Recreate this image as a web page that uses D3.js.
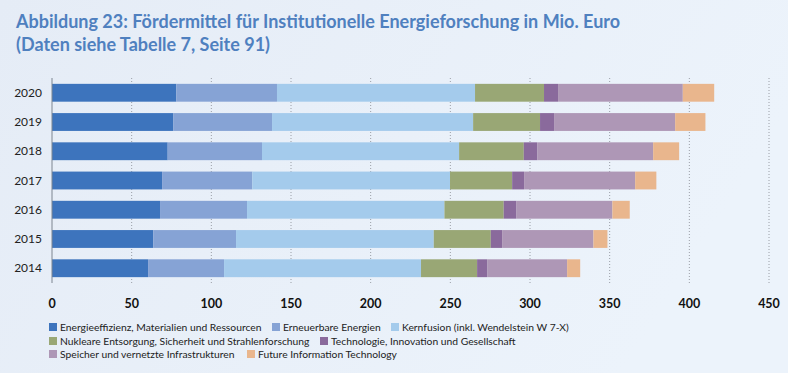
<!DOCTYPE html>
<html lang="de">
<head>
  <meta charset="UTF-8">
  <title>Abbildung 23</title>
  <script src="https://d3js.org/d3.v7.min.js"></script>
  <style>
    html, body { margin: 0; padding: 0; }
    body { width: 788px; height: 373px; overflow: hidden; }
    svg { display: block; }
    .title { font: bold 18px "Lato", sans-serif; fill: #4f80bf; }
    .ylab { font: 12px "Lato", sans-serif; fill: #222; }
    .xlab { font: bold 12.5px "Lato", sans-serif; fill: #111; }
    .leg { font: 10.3px "Lato", sans-serif; fill: #222; }
  </style>
</head>
<body>
  <svg id="chart" width="788" height="373"></svg>
  <script>
    const years = ['2020', '2019', '2018', '2017', '2016', '2015', '2014'];
    const seriesNames = [
      'Energieeffizienz, Materialien und Ressourcen',
      'Erneuerbare Energien',
      'Kernfusion (inkl. Wendelstein W 7-X)',
      'Nukleare Entsorgung, Sicherheit und Strahlenforschung',
      'Technologie, Innovation und Gesellschaft',
      'Speicher und vernetzte Infrastrukturen',
      'Future Information Technology'
    ];
    const colors = ['#3d74bd', '#86a3d5', '#a4cbec', '#99a775', '#8a6a9c', '#ae97b6', '#e9b68d'];
    // values per series, same order as years
    const effizienz   = [78.0, 76.2, 72.6, 69.1, 67.8, 63.6, 60.3];
    const erneuerbare = [63.2, 61.9, 59.2, 56.6, 54.6, 51.9, 47.7];
    const kernfusion  = [124.3, 126.2, 123.7, 124.1, 123.9, 124.1, 123.6];
    const nuklear     = [43.3, 42.0, 40.6, 39.0, 37.2, 35.8, 35.2];
    const technologie = [8.8, 8.8, 8.4, 7.5, 7.8, 7.1, 6.3];
    const speicher    = [78.3, 76.0, 72.8, 69.7, 60.4, 57.3, 50.2];
    const fit         = [19.7, 19.0, 16.3, 13.3, 10.9, 8.8, 8.2];
    const xTicks = [0, 50, 100, 150, 200, 250, 300, 350, 400, 450];

    const series = [effizienz, erneuerbare, kernfusion, nuklear, technologie, speicher, fit];
    const rows = years.map((y, i) => {
      const r = { year: y };
      seriesNames.forEach((n, j) => r[n] = series[j][i]);
      return r;
    });

    const svg = d3.select('#chart');

    // background
    const defs = svg.append('defs');
    const grad = defs.append('linearGradient').attr('id', 'bg').attr('x1', 0).attr('x2', 1).attr('y1', 0).attr('y2', 0.3);
    grad.append('stop').attr('offset', 0).attr('stop-color', '#e5ecf6');
    grad.append('stop').attr('offset', 1).attr('stop-color', '#ecf3fb');
    svg.append('rect').attr('width', 788).attr('height', 373).attr('fill', 'url(#bg)');

    svg.append('text').attr('class', 'title').attr('x', 16).attr('y', 28)
      .text('Abbildung 23: Fördermittel für Institutionelle Energieforschung in Mio. Euro');
    svg.append('text').attr('class', 'title').attr('x', 16).attr('y', 51)
      .text('(Daten siehe Tabelle 7, Seite 91)');

    const x = d3.scaleLinear().domain([0, 450]).range([52, 769]);
    const y = d3.scaleBand().domain(years).range([78, 283]).paddingInner(0.39).paddingOuter(0.2);

    // dotted gridlines
    svg.append('g').selectAll('line')
      .data(xTicks.slice(1))
      .join('line')
      .attr('x1', d => x(d)).attr('x2', d => x(d))
      .attr('y1', 78).attr('y2', 283)
      .attr('stroke', '#9a9ea6').attr('stroke-width', 1).attr('stroke-dasharray', '1,2');

    const stack = d3.stack().keys(seriesNames)(rows);
    svg.append('g').selectAll('g')
      .data(stack)
      .join('g')
      .attr('fill', (d, i) => colors[i])
      .selectAll('rect')
      .data(d => d)
      .join('rect')
      .attr('x', d => x(d[0]))
      .attr('width', d => x(d[1]) - x(d[0]))
      .attr('y', d => y(d.data.year))
      .attr('height', y.bandwidth());

    // y axis
    svg.append('line').attr('x1', 52).attr('x2', 52).attr('y1', 78).attr('y2', 283)
      .attr('stroke', '#7d8590').attr('stroke-width', 1);
    svg.append('g').selectAll('text')
      .data(years)
      .join('text')
      .attr('class', 'ylab')
      .attr('x', 42)
      .attr('y', d => y(d) + y.bandwidth() / 2)
      .attr('dy', '0.35em')
      .attr('text-anchor', 'end')
      .text(d => d);

    // x tick labels
    svg.append('g').selectAll('text')
      .data(xTicks)
      .join('text')
      .attr('class', 'xlab')
      .attr('x', d => x(d))
      .attr('y', 308)
      .attr('text-anchor', 'middle')
      .text(d => d);

    // legend
    const legendPos = [[49, 327], [272, 327], [391, 327], [49, 341], [320, 341], [49, 354], [247, 354]];
    const leg = svg.append('g').selectAll('g')
      .data(seriesNames)
      .join('g')
      .attr('transform', (d, i) => `translate(${legendPos[i][0]},${legendPos[i][1]})`);
    leg.append('rect').attr('x', 0).attr('y', -4).attr('width', 8).attr('height', 8)
      .attr('fill', (d, i) => colors[i]);
    leg.append('text').attr('class', 'leg').attr('x', 11).attr('dy', '0.35em').text(d => d);
  </script>
</body>
</html>
